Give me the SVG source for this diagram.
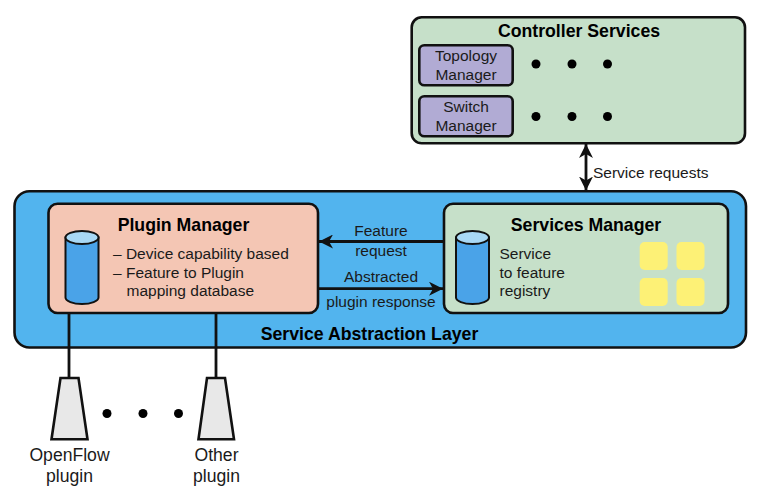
<svg xmlns="http://www.w3.org/2000/svg" width="757" height="495" viewBox="0 0 757 495">
<style>
text{font-family:"Liberation Sans",Arial,sans-serif;font-size:15.5px;fill:#1a1a1a;text-anchor:middle}
.b{font-weight:700;font-size:17.7px;fill:#000}
.pl{font-size:17.6px}
.l{text-anchor:start}
.box{stroke:#111;stroke-width:2.6}
.line{stroke:#111;stroke-width:2.8;fill:none}
.cyl{fill:#4aa3e8;stroke:#111;stroke-width:2}
.top{fill:#a8d8f5;stroke:#111;stroke-width:2}
.y{fill:#fdf176}
.tr{fill:#e8e8e8;stroke:#111;stroke-width:2.6}
.p{fill:#b1abd4}
.g{fill:#c6e0c9}
</style>
<defs>
<marker id="a" markerUnits="userSpaceOnUse" markerWidth="16" markerHeight="14" refX="14" refY="7" orient="auto-start-reverse"><path d="M0 0L14 7L0 14L4 7Z" fill="#111"/></marker>
</defs>
<g id="controller-services">
<rect class="box g" x="411.7" y="17.3" width="333.3" height="126" rx="10"/>
<text class="b" x="579" y="37">Controller Services</text>
</g>
<g id="topology-manager">
<rect class="box p" x="419.3" y="45.3" width="93.4" height="40" rx="5"/>
<text x="466" y="61">Topology</text><text x="466" y="80">Manager</text>
</g>
<g id="switch-manager">
<rect class="box p" x="419.3" y="96.3" width="93.4" height="40" rx="5"/>
<text x="466" y="112">Switch</text><text x="466" y="130.500">Manager</text>
</g>
<g id="controller-dots" fill="#000">
<circle cx="536" cy="64" r="4.500"/><circle cx="572" cy="64" r="4.500"/><circle cx="607.500" cy="64" r="4.500"/>
<circle cx="536" cy="116.500" r="4.500"/><circle cx="572" cy="116.500" r="4.500"/><circle cx="607.500" cy="116.500" r="4.500"/>
</g>
<g id="service-abstraction-layer">
<rect class="box" fill="#52b4ee" x="14.500" y="191.300" width="731.500" height="156.200" rx="15"/>
<text class="b" x="369.500" y="340">Service Abstraction Layer</text>
</g>
<g id="plugin-manager">
<rect class="box" fill="#f4c6b4" x="48.500" y="203.700" width="269.500" height="109.300" rx="9"/>
<path class="cyl" d="M65.500 237.500V297.500A16.500 6.500 0 0 0 98.500 297.500V237.500Z"/>
<ellipse class="top" cx="82" cy="237.500" rx="16.500" ry="6.500"/>
<text class="b" x="183.500" y="231">Plugin Manager</text>
<text class="l" x="113" y="259">– Device capability based</text>
<text class="l" x="113" y="278">– Feature to Plugin</text>
<text class="l" x="126.500" y="296">mapping database</text>
</g>
<g id="services-manager">
<rect class="box g" x="444" y="203.700" width="284" height="109.300" rx="9"/>
<path class="cyl" d="M456 237.500V297.500A16.500 6.500 0 0 0 489 297.500V237.500Z"/>
<ellipse class="top" cx="472.500" cy="237.500" rx="16.500" ry="6.500"/>
<text class="b" x="586" y="231">Services Manager</text>
<text class="l" x="499.500" y="259">Service</text>
<text class="l" x="499.500" y="278">to feature</text>
<text class="l" x="499.500" y="296">registry</text>
<rect class="y" x="639.700" y="242" width="28" height="28" rx="5"/>
<rect class="y" x="676.500" y="242" width="28" height="28" rx="5"/>
<rect class="y" x="639.700" y="278" width="28" height="28" rx="5"/>
<rect class="y" x="676.500" y="278" width="28" height="28" rx="5"/>
</g>
<g id="connectors">
<path class="line" d="M586 144V190.500" marker-start="url(#a)" marker-end="url(#a)"/>
<path class="line" d="M444 241.500H319" marker-end="url(#a)"/>
<path class="line" d="M318 288.700H443" marker-end="url(#a)"/>
<path class="line" d="M69 313V378"/>
<path class="line" d="M216 313V378"/>
</g>
<text class="l" x="593" y="178">Service requests</text>
<text x="381" y="235.500">Feature</text>
<text x="381" y="256">request</text>
<text x="381" y="282">Abstracted</text>
<text x="381" y="306.500">plugin response</text>
<g id="openflow-plugin">
<path class="tr" d="M60.500 378H78.500L87.500 439.300H51.500Z"/>
<text class="pl" x="69.500" y="461">OpenFlow</text><text class="pl" x="69.500" y="482">plugin</text>
</g>
<g id="other-plugin">
<path class="tr" d="M207 378H225L234 439.300H198.500Z"/>
<text class="pl" x="216.500" y="461">Other</text><text class="pl" x="216.500" y="482">plugin</text>
</g>
<g id="plugin-dots" fill="#000">
<circle cx="107" cy="413.500" r="4.500"/><circle cx="143" cy="413.500" r="4.500"/><circle cx="178.500" cy="413.500" r="4.500"/>
</g>
</svg>
